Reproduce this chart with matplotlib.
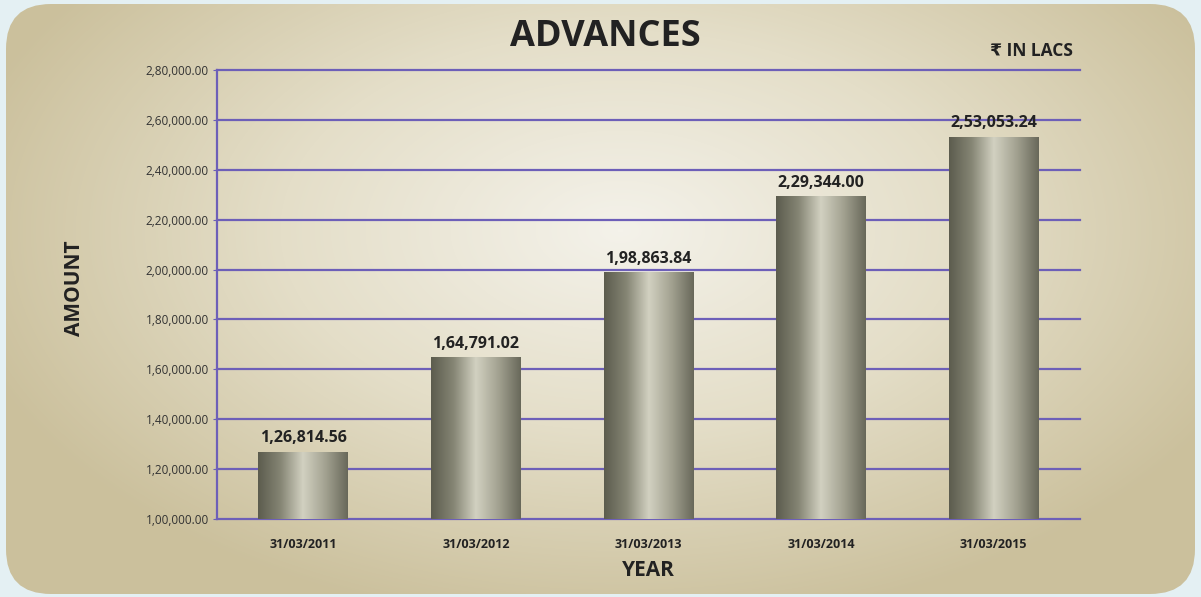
import numpy as np
import matplotlib.pyplot as plt
from matplotlib.patches import FancyBboxPatch
from matplotlib.colors import LinearSegmentedColormap

years = ['31/03/2011', '31/03/2012', '31/03/2013', '31/03/2014', '31/03/2015']
advances = [126814.56, 164791.02, 198863.84, 229344.00, 253053.24]
labels = ['1,26,814.56', '1,64,791.02', '1,98,863.84', '2,29,344.00', '2,53,053.24']
yticks = np.arange(100000, 280001, 20000)
ytick_labels = ['1,00,000.00', '1,20,000.00', '1,40,000.00', '1,60,000.00', '1,80,000.00',
                '2,00,000.00', '2,20,000.00', '2,40,000.00', '2,60,000.00', '2,80,000.00']

fonts = ['Open Sans', 'DejaVu Sans']
plt.rcParams['font.family'] = fonts

fig = plt.figure(figsize=(12.01, 5.97), dpi=100)
fig.patch.set_facecolor('#e4f0f3')

# beige rounded panel with radial gradient
bg = fig.add_axes([0, 0, 1, 1], zorder=-1)
bg.set_xlim(0, 1201)
bg.set_ylim(597, 0)
bg.axis('off')
yy, xx = np.mgrid[0:597, 0:1201]
r = np.sqrt(((xx - 620) / 680.0) ** 2 + ((yy - 230) / 400.0) ** 2)
r = np.clip(r, 0, 1)
bg_cmap = LinearSegmentedColormap.from_list('bg', ['#f4f2ea', '#e4dec8', '#cbc09c'])
im = bg.imshow(r, cmap=bg_cmap, extent=[0, 1201, 597, 0], aspect='auto')
panel = FancyBboxPatch((6, 4), 1189, 590, boxstyle='round,pad=0,rounding_size=45',
                       facecolor='none', edgecolor='none', transform=bg.transData)
bg.add_patch(panel)
im.set_clip_path(panel)

ax = fig.add_axes([217 / 1201, 1 - 519 / 597, 863 / 1201, 449 / 597])
ax.patch.set_alpha(0)
ax.set_xlim(-0.5, 4.5)
ax.set_ylim(100000, 280000)

grid_color = '#6d5fb8'
for v in yticks:
    ax.axhline(v, color=grid_color, lw=1.6, zorder=1, clip_on=False)
for s in ['top', 'right', 'bottom']:
    ax.spines[s].set_visible(False)
ax.spines['left'].set_color(grid_color)
ax.spines['left'].set_linewidth(1.6)

bar_cmap = LinearSegmentedColormap.from_list(
    'bar', ['#5c5c4e', '#85857446', '#d2d1c1', '#a3a291', '#68685a'])
bar_cmap = LinearSegmentedColormap.from_list(
    'bar', ['#5c5c4e', '#858574', '#d2d1c1', '#a3a291', '#68685a'])
grad = np.linspace(0, 1, 256).reshape(1, -1)
w = 0.52
bars = ax.bar(range(len(years)), np.array(advances) - 100000, bottom=100000,
              width=w, color='none', zorder=2)
for b, lab in zip(bars, labels):
    x0 = b.get_x()
    h = b.get_y() + b.get_height()
    gi = ax.imshow(grad, cmap=bar_cmap, extent=[x0, x0 + w, 100000, h],
                   aspect='auto', zorder=2)
    gi.set_clip_path(b)
    ax.text(b.get_x() + w / 2, h + 2300, lab, ha='center', va='bottom',
            fontsize=11.5, fontweight='bold', color='#222222')
ax.set_xlim(-0.5, 4.5)
ax.set_ylim(100000, 280000)

ax.set_yticks(yticks)
ax.set_yticklabels(ytick_labels, fontsize=8.5, color='#333333')
ax.set_xticks(range(len(years)))
ax.set_xticklabels(years, fontsize=9, fontweight='bold', color='#222222')
ax.tick_params(axis='y', length=3, color=grid_color, pad=3)
ax.tick_params(axis='x', length=0, pad=14)

ax.set_xlabel('YEAR', fontsize=15, fontweight='bold', color='#222222', labelpad=6)
fig.text(75 / 1201, 1 - 288 / 597, 'AMOUNT', rotation=90, ha='center', va='center',
         fontsize=15, fontweight='bold', color='#222222')
fig.text(605 / 1201, 1 - 37 / 597, 'ADVANCES', ha='center', va='center',
         fontsize=26, fontweight='bold', color='#222222')
fig.text(1073 / 1201, 1 - 51 / 597, '₹ IN LACS', ha='right', va='center',
         fontsize=12.5, fontweight='bold', color='#222222')

fig.savefig('out.png', dpi=100, facecolor=fig.get_facecolor())
